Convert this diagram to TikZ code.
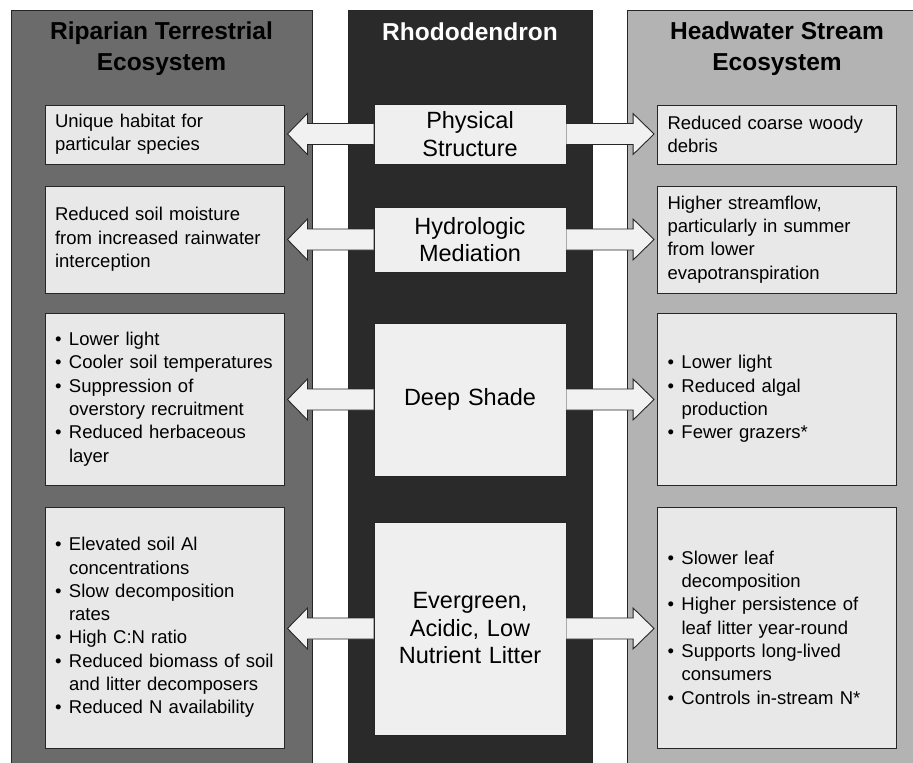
\documentclass[tikz,border=0pt]{standalone}
\usepackage{fontspec}
\setmainfont{Liberation Sans}
\usetikzlibrary{calc}
\definecolor{riparian}{HTML}{6B6B6B}
\definecolor{rhodo}{HTML}{2A2A2A}
\definecolor{stream}{HTML}{B3B3B3}
\definecolor{boxfill}{HTML}{E8E8E8}
\definecolor{edgegray}{HTML}{262626}
\newcommand{\bul}{\makebox[14pt][l]{•}}
\newcommand{\cnt}{\hspace*{14pt}}
% block arrows from the middle column to the side boxes
\newcommand{\leftblk}[2]{%
  \filldraw[blkarr] let \p1=(#1), \p2=(#2) in
    (\x1,\y1+10.5pt) -- (\x2+23pt,\y1+10.5pt) -- (\x2+23pt,\y1+20.5pt) -- (\x2+3pt,\y1)
    -- (\x2+23pt,\y1-20.5pt) -- (\x2+23pt,\y1-10.5pt) -- (\x1,\y1-10.5pt);}
\newcommand{\rightblk}[2]{%
  \filldraw[blkarr] let \p1=(#1), \p2=(#2) in
    (\x1,\y1+10.5pt) -- (\x2-24pt,\y1+10.5pt) -- (\x2-24pt,\y1+20.5pt) -- (\x2-3pt,\y1)
    -- (\x2-24pt,\y1-20.5pt) -- (\x2-24pt,\y1-10.5pt) -- (\x1,\y1-10.5pt);}

\begin{document}
\begin{tikzpicture}[x=1pt, y=-1pt,
    panel/.style={draw=edgegray, line width=0.8pt},
    title/.style={align=center, font=\fontsize{24.5}{31}\selectfont\bfseries},
    effect/.style={draw=edgegray, fill=boxfill, line width=0.9pt, minimum width=239pt,
      text width=219pt, inner xsep=10pt, align=left, font=\fontsize{18.5}{23.3}\selectfont},
    driver/.style={draw=edgegray, fill=boxfill!70!white, line width=0.9pt, minimum width=192pt,
      text width=172pt, inner xsep=10pt, align=center, font=\fontsize{23.5}{27.5}\selectfont},
    blkarr/.style={draw=edgegray, fill=boxfill!60!white, line width=0.9pt, line join=miter}]
  \useasboundingbox (0,0) rectangle (913,763);
  \fill[white] (0,0) rectangle (913,763);

  % columns
  \draw[panel, fill=riparian] (11,10) rectangle (312,775);
  \draw[panel, fill=rhodo] (348,10) rectangle (592,775);
  \draw[panel, fill=stream] (627,10) rectangle (927,775);

  \node[title] (riptitle) at (161.5,49) {Riparian Terrestrial\\Ecosystem};
  \node[title, text=white] (rhotitle) at (470,32) {Rhododendron};
  \node[title] (strtitle) at (777,49) {Headwater Stream\\Ecosystem};

  % middle column
  \node[driver, minimum height=60pt] (m1) at (470,134) {Physical\\Structure};
  \node[driver, minimum height=65pt] (m2) at (470,239.5) {Hydrologic\\Mediation};
  \node[driver, minimum height=153pt] (m3) at (470,399.5) {Deep Shade};
  \node[driver, minimum height=213pt] (m4) at (470,628.5) {Evergreen,\\Acidic, Low\\Nutrient Litter};

  % riparian side
  \node[effect, minimum height=59pt] (l1) at (164.5,134.5) {Unique habitat for\\particular species};
  \node[effect, minimum height=107pt] (l2) at (164.5,239.5) {Reduced soil moisture\\from increased rainwater\\interception};
  \node[effect, minimum height=172pt] (l3) at (164.5,399) {\bul Lower light\\\bul Cooler soil temperatures\\\bul Suppression of\\\cnt overstory recruitment\\\bul Reduced herbaceous\\\cnt layer};
  \node[effect, minimum height=241pt] (l4) at (164.5,627.5) {\bul Elevated soil Al\\\cnt concentrations\\\bul Slow decomposition\\\cnt rates\\\bul High C:N ratio\\\bul Reduced biomass of soil\\\cnt and litter decomposers\\\bul Reduced N availability};

  % stream side
  \node[effect, minimum height=59pt] (r1) at (777,134.5) {Reduced coarse woody\\debris};
  \node[effect, minimum height=107pt] (r2) at (777,239.5) {Higher streamflow,\\particularly in summer\\from lower\\evapotranspiration};
  \node[effect, minimum height=172pt] (r3) at (777,399) {\bul Lower light\\\bul Reduced algal\\\cnt production\\\bul Fewer grazers*};
  \node[effect, minimum height=241pt] (r4) at (777,627.5) {\bul Slower leaf\\\cnt decomposition\\\bul Higher persistence of\\\cnt leaf litter year-round\\\bul Supports long-lived\\\cnt consumers\\\bul Controls in-stream N*};

  \foreach \i in {1,...,4}{
    \leftblk{m\i.west}{l\i.east}
    \rightblk{m\i.east}{r\i.west}
  }
\end{tikzpicture}
\end{document}
